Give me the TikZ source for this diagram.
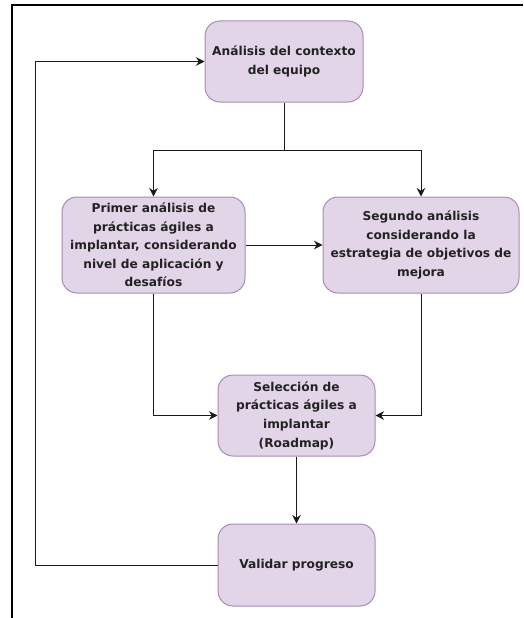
\documentclass[tikz,border=0pt]{standalone}
\usepackage{fontspec}
\setmainfont{DejaVu Sans}
\usetikzlibrary{arrows.meta}
\definecolor{boxfill}{HTML}{E1D5E7}
\definecolor{boxline}{HTML}{A98BBA}
\definecolor{txt}{HTML}{222222}
\definecolor{conn}{HTML}{1A1A1A}
\begin{document}
\begin{tikzpicture}[x=1pt,y=-1pt,
  box/.style={draw=boxline,fill=boxfill,line width=1pt,rounded corners=15pt,
    minimum width=#1,align=center,font=\fontsize{12.2}{18.6}\selectfont\bfseries,text=txt,inner sep=0pt},
  conn/.style={draw=conn,line width=1pt},
  arr/.style={conn,-{Stealth[length=8.5pt,width=8.5pt]}}]
\useasboundingbox (0,0) rectangle (523,618);
\fill[white] (0,0) rectangle (523,618);
\draw[line width=2.2pt] (12,618) -- (12,5) -- (523,5);
\node[box=158pt,minimum height=81pt] (A) at (284,61.5) {Análisis del contexto\\del equipo};
\node[box=183pt,minimum height=96pt] (B) at (153.5,245) {Primer análisis de\\prácticas ágiles a\\implantar, considerando\\nivel de aplicación y\\desafíos};
\node[box=196pt,minimum height=96pt] (C) at (421,245) {Segundo análisis\\considerando la\\estrategia de objetivos de\\mejora};
\node[box=157pt,minimum height=81pt] (D) at (296.5,415.5) {Selección de\\prácticas ágiles a\\implantar\\(Roadmap)};
\node[box=157pt,minimum height=82pt] (E) at (296.5,565) {Validar progreso};
\draw[arr] (A.south) -- ++(0,48) -| (B.north);
\draw[arr] (A.south) -- ++(0,48) -| (C.north);
\draw[arr] (B.east) -- (C.west);
\draw[arr] (B.south) |- (D.west);
\draw[arr] (C.south) |- (D.east);
\draw[arr] (D.south) -- (E.north);
\draw[arr] (E.west) -- ++(-182,0) |- (A.west);
\end{tikzpicture}
\end{document}
